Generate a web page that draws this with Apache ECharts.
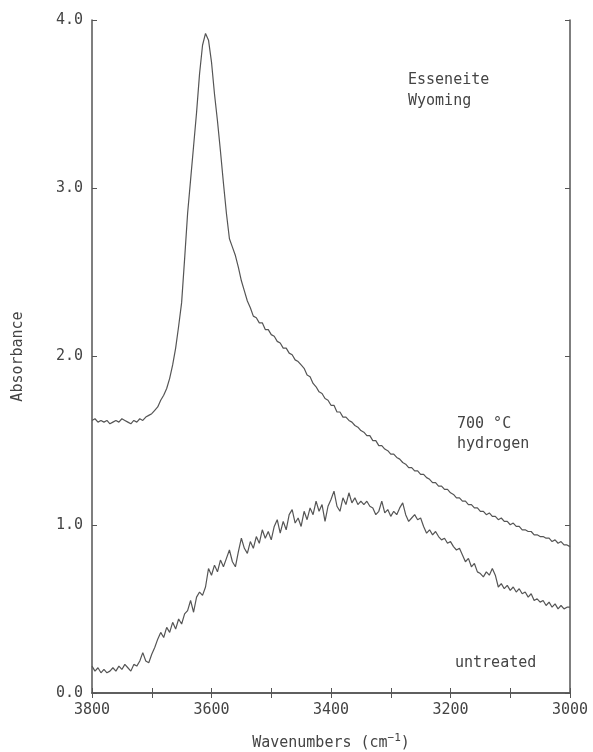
<!DOCTYPE html>
<html>
<head>
<meta charset="utf-8">
<script src="https://cdn.jsdelivr.net/npm/echarts@6/dist/echarts.min.js"></script>
<style>
html,body{margin:0;padding:0;background:#fff;}
#chart{width:593px;height:752px;}
</style>
</head>
<body>
<div id="chart"></div>
<script>
// Wavenumber grid (cm^-1)
const wavenumbers = [
 3800,3795,3790,3785,3780,3775,3770,3765,3760,3755,
 3750,3745,3740,3735,3730,3725,3720,3715,3710,3705,
 3700,3695,3690,3685,3680,3675,3670,3665,3660,3655,
 3650,3645,3640,3635,3630,3625,3620,3615,3610,3605,
 3600,3595,3590,3585,3580,3575,3570,3565,3560,3555,
 3550,3545,3540,3535,3530,3525,3520,3515,3510,3505,
 3500,3495,3490,3485,3480,3475,3470,3465,3460,3455,
 3450,3445,3440,3435,3430,3425,3420,3415,3410,3405,
 3400,3395,3390,3385,3380,3375,3370,3365,3360,3355,
 3350,3345,3340,3335,3330,3325,3320,3315,3310,3305,
 3300,3295,3290,3285,3280,3275,3270,3265,3260,3255,
 3250,3245,3240,3235,3230,3225,3220,3215,3210,3205,
 3200,3195,3190,3185,3180,3175,3170,3165,3160,3155,
 3150,3145,3140,3135,3130,3125,3120,3115,3110,3105,
 3100,3095,3090,3085,3080,3075,3070,3065,3060,3055,
 3050,3045,3040,3035,3030,3025,3020,3015,3010,3005,
 3000
];

// 700 °C hydrogen-treated sample
const hydrogen700 = [
 1.62,1.63,1.61,1.62,1.61,1.62,1.60,1.61,1.62,1.61,
 1.63,1.62,1.61,1.60,1.62,1.61,1.63,1.62,1.64,1.65,
 1.66,1.68,1.70,1.74,1.77,1.81,1.87,1.95,2.05,2.18,
 2.32,2.58,2.85,3.05,3.25,3.45,3.68,3.85,3.92,3.88,
 3.75,3.56,3.40,3.22,3.03,2.85,2.70,2.65,2.60,2.53,
 2.45,2.39,2.33,2.29,2.24,2.23,2.20,2.20,2.16,2.16,
 2.13,2.12,2.09,2.08,2.05,2.05,2.02,2.01,1.98,1.97,
 1.95,1.93,1.89,1.88,1.84,1.82,1.79,1.78,1.75,1.74,
 1.71,1.71,1.67,1.67,1.64,1.64,1.62,1.61,1.59,1.58,
 1.56,1.55,1.53,1.53,1.50,1.50,1.47,1.47,1.45,1.44,
 1.42,1.42,1.40,1.39,1.37,1.36,1.34,1.34,1.32,1.32,
 1.30,1.30,1.28,1.27,1.25,1.25,1.23,1.23,1.21,1.21,
 1.19,1.18,1.16,1.16,1.14,1.14,1.12,1.12,1.10,1.10,
 1.08,1.08,1.06,1.07,1.05,1.05,1.03,1.04,1.02,1.02,
 1.00,1.01,0.99,0.99,0.97,0.97,0.96,0.96,0.94,0.94,
 0.93,0.93,0.92,0.92,0.90,0.91,0.89,0.90,0.88,0.88,
 0.87
];

// untreated sample
const untreated = [
 0.16,0.13,0.15,0.12,0.14,0.12,0.13,0.15,0.13,0.16,
 0.14,0.17,0.15,0.13,0.17,0.16,0.19,0.24,0.19,0.18,
 0.23,0.27,0.32,0.36,0.33,0.39,0.36,0.42,0.38,0.44,
 0.41,0.47,0.49,0.55,0.48,0.57,0.60,0.58,0.63,0.74,
 0.70,0.76,0.72,0.79,0.75,0.80,0.85,0.78,0.75,0.84,
 0.92,0.86,0.83,0.90,0.86,0.93,0.89,0.97,0.92,0.96,
 0.91,0.99,1.03,0.95,1.02,0.97,1.06,1.09,1.01,1.04,
 0.99,1.08,1.03,1.10,1.06,1.14,1.08,1.12,1.02,1.11,
 1.15,1.20,1.11,1.08,1.16,1.12,1.19,1.13,1.16,1.12,
 1.14,1.12,1.14,1.11,1.10,1.06,1.08,1.14,1.07,1.09,
 1.05,1.08,1.06,1.10,1.13,1.06,1.02,1.04,1.06,1.03,
 1.04,0.99,0.95,0.97,0.94,0.96,0.93,0.91,0.92,0.89,
 0.90,0.87,0.85,0.86,0.82,0.78,0.80,0.75,0.77,0.72,
 0.71,0.69,0.72,0.70,0.74,0.70,0.63,0.65,0.62,0.64,
 0.61,0.63,0.60,0.62,0.59,0.60,0.57,0.59,0.55,0.56,
 0.54,0.55,0.52,0.54,0.51,0.53,0.50,0.52,0.50,0.51,
 0.51
];

const xTickLabels = [3800, 3600, 3400, 3200, 3000];
const yTickLabels = [0, 1, 2, 3, 4];

const FONT = '"DejaVu Sans Mono", monospace';
const INK = '#444';
const LINE = '#555';

function pairs(ys) { return wavenumbers.map((w, i) => [w, ys[i]]); }

const axisLine = { show: true, lineStyle: { color: LINE, width: 1.5 } };
const tick = { show: true, inside: true, length: 5, lineStyle: { color: LINE, width: 1 } };

const chart = echarts.init(document.getElementById('chart'), null, { renderer: 'canvas' });
chart.setOption({
  animation: false,
  backgroundColor: '#fff',
  grid: { left: 92, right: 23, top: 20, bottom: 59, containLabel: false, outerBoundsMode: 'none' },
  xAxis: [{
    type: 'value', min: 3000, max: 3800, interval: 100, inverse: true,
    position: 'bottom',
    axisLine: axisLine, axisTick: tick, splitLine: { show: false },
    axisLabel: {
      margin: 10, color: INK, fontFamily: FONT, fontSize: 15,
      formatter: v => xTickLabels.includes(v) ? String(v) : ''
    },
    name: 'Wavenumbers (cm{sup|\u22121})',
    nameLocation: 'middle', nameGap: 40,
    nameTextStyle: {
      color: INK, fontFamily: FONT, fontSize: 15,
      rich: { sup: { fontFamily: FONT, fontSize: 11, color: INK, verticalAlign: 'top', padding: [0, 0, 10, 0] } }
    }
  }, {
    type: 'value', min: 3000, max: 3800, interval: 100, inverse: true,
    position: 'top',
    axisLine: axisLine, axisTick: tick, splitLine: { show: false },
    axisLabel: { show: false }
  }],
  yAxis: [{
    type: 'value', min: 0, max: 4, interval: 1, position: 'left',
    axisLine: axisLine, axisTick: tick, splitLine: { show: false },
    axisLabel: {
      margin: 9, color: INK, fontFamily: FONT, fontSize: 15,
      formatter: v => yTickLabels.includes(v) ? v.toFixed(1) : ''
    },
    name: 'Absorbance', nameLocation: 'middle', nameGap: 66, nameRotate: 90,
    nameTextStyle: { color: INK, fontFamily: FONT, fontSize: 15 }
  }, {
    type: 'value', min: 0, max: 4, interval: 1, position: 'right',
    axisLine: axisLine, axisTick: tick, splitLine: { show: false },
    axisLabel: { show: false }
  }],
  series: [{
    name: '700 °C hydrogen', type: 'line', data: pairs(hydrogen700),
    xAxisIndex: 0, yAxisIndex: 0, showSymbol: false, smooth: false,
    lineStyle: { color: LINE, width: 1.2 }
  }, {
    name: 'untreated', type: 'line', data: pairs(untreated),
    xAxisIndex: 0, yAxisIndex: 0, showSymbol: false, smooth: false,
    lineStyle: { color: LINE, width: 1.2 }
  }],
  graphic: [
    { type: 'text', left: 408, top: 70, style: { text: 'Esseneite\nWyoming', font: '15px ' + FONT, fill: INK, lineHeight: 21 } },
    { type: 'text', left: 457, top: 414, style: { text: '700 °C\nhydrogen', font: '15px ' + FONT, fill: INK, lineHeight: 20 } },
    { type: 'text', left: 455, top: 656, style: { text: 'untreated', font: '15px ' + FONT, fill: INK } }
  ]
});
</script>
</body>
</html>
